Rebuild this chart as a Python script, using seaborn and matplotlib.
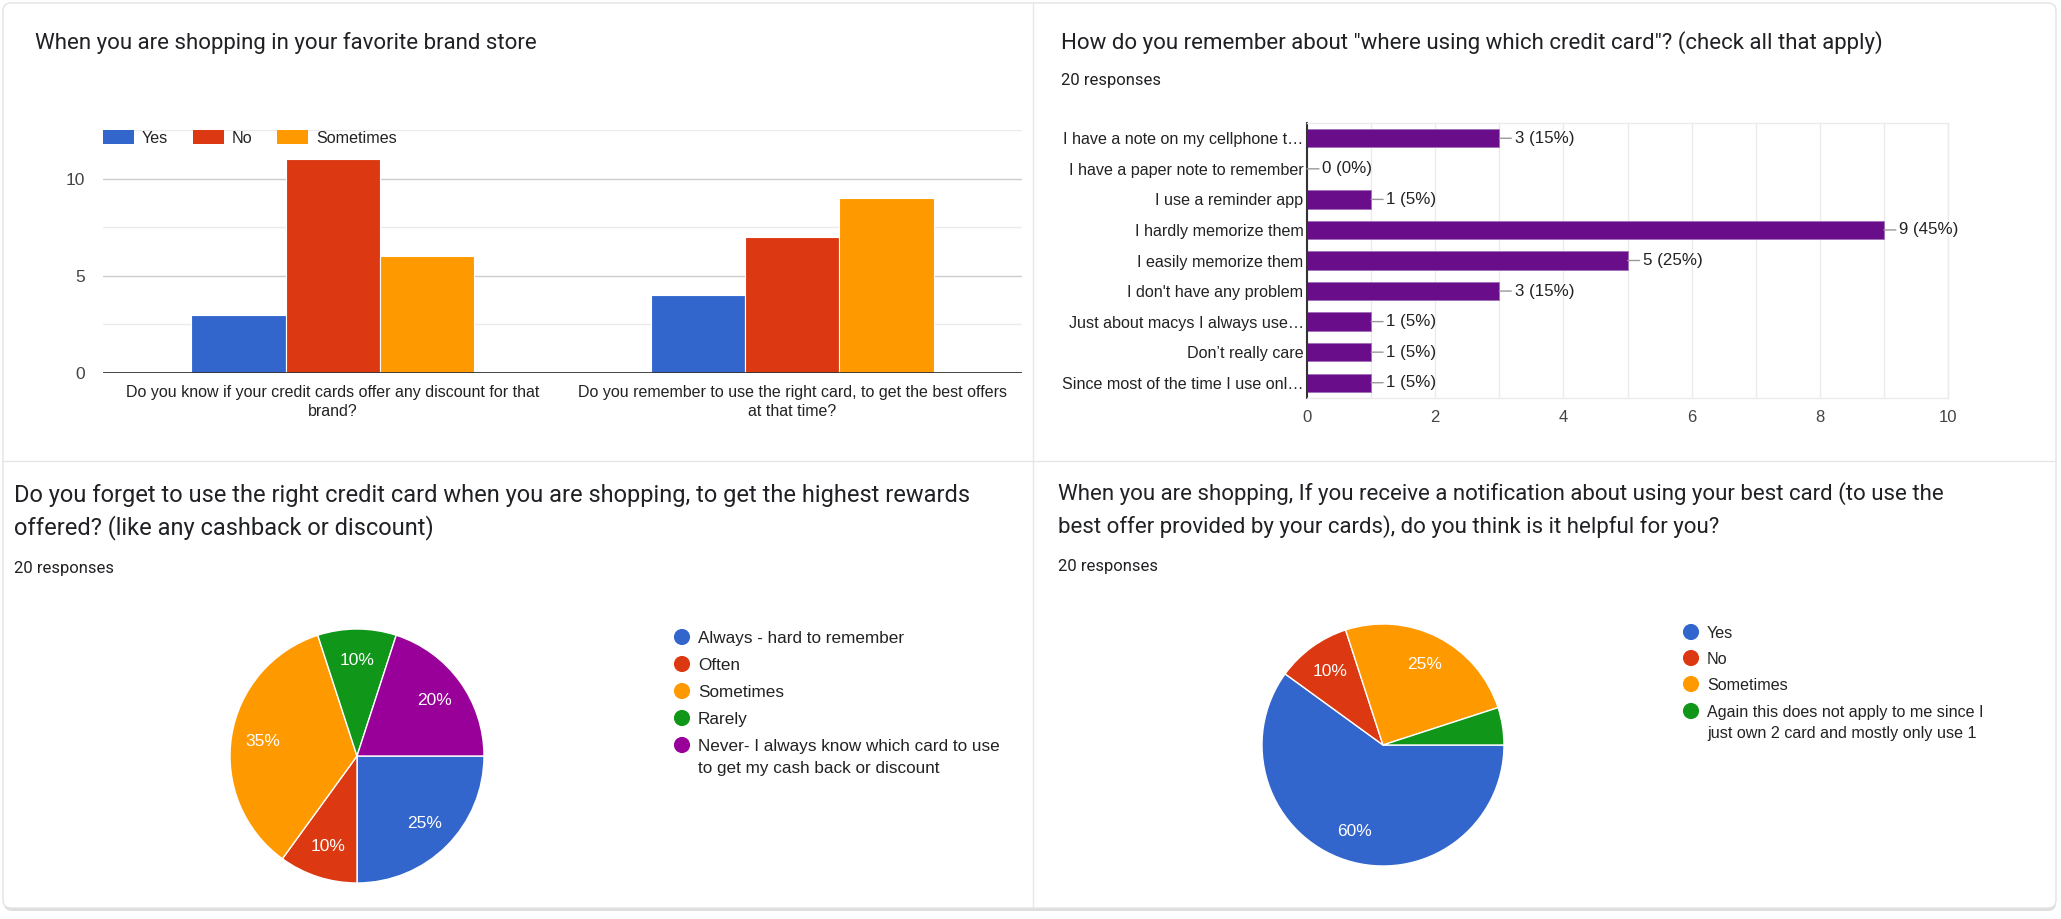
import matplotlib
matplotlib.use("Agg")
import matplotlib.pyplot as plt
import seaborn as sns
import pandas as pd
from matplotlib.patches import FancyBboxPatch, Patch
from matplotlib.lines import Line2D

# --- data ---
brand_questions = [
    "Do you know if your credit cards offer any discount for that\nbrand?",
    "Do you remember to use the right card, to get the best offers\nat that time?",
]
brand_answers = ["Yes", "No", "Sometimes"]
brand_yes = [3, 4]
brand_no = [11, 7]
brand_sometimes = [6, 9]

remember_options = [
    "I have a note on my cellphone t…",
    "I have a paper note to remember",
    "I use a reminder app",
    "I hardly memorize them",
    "I easily memorize them",
    "I don't have any problem",
    "Just about macys I always use…",
    "Don’t really care",
    "Since most of the time I use onl…",
]
remember_counts = [3, 0, 1, 9, 5, 3, 1, 1, 1]
n_responses = 20

forget_labels = [
    "Always - hard to remember",
    "Often",
    "Sometimes",
    "Rarely",
    "Never- I always know which card to use\nto get my cash back or discount",
]
forget_pct = [25, 10, 35, 10, 20]

notify_labels = [
    "Yes",
    "No",
    "Sometimes",
    "Again this does not apply to me since I\njust own 2 card and mostly only use 1",
]
notify_pct = [60, 10, 25, 5]

titles = [
    "When you are shopping in your favorite brand store",
    'How do you remember about "where using which credit card"? (check all that apply)',
    "Do you forget to use the right credit card when you are shopping, to get the highest rewards\noffered? (like any cashback or discount)",
    "When you are shopping, If you receive a notification about using your best card (to use the\nbest offer provided by your cards), do you think is it helpful for you?",
]

BLUE, RED, ORANGE, GREEN, PURPLE = "#3366cc", "#dc3912", "#ff9900", "#109618", "#990099"
BAR_PURPLE = "#6a0d8b"
TXT = "#222222"

sns.set_theme(style="white")
plt.rcParams["font.family"] = ["Liberation Sans", "DejaVu Sans"]

W, H = 2061, 919
fig = plt.figure(figsize=(W / 100, H / 100), dpi=100)
fig.patch.set_facecolor("white")


def box(left, top, right, bottom):
    # pixel box -> figure fraction rect
    return [left / W, 1 - bottom / H, (right - left) / W, (bottom - top) / H]


# card background, shadow and dividers
fig.add_artist(FancyBboxPatch((4, 8), 2052, 906, boxstyle="round,pad=0,rounding_size=8",
                              transform=None, facecolor="#c8c8c8", edgecolor="none", alpha=0.6, zorder=-3))
fig.add_artist(FancyBboxPatch((3, 11), 2053, 905, boxstyle="round,pad=0,rounding_size=8",
                              transform=None, facecolor="white", edgecolor="#e3e3e3", lw=1, zorder=-2))
fig.add_artist(Line2D([1033 / W, 1033 / W], [11 / H, 1 - 2 / H], color="#e6e6e6", lw=1, zorder=-1))
fig.add_artist(Line2D([3 / W, 2056 / W], [1 - 461 / H, 1 - 461 / H], color="#e6e6e6", lw=1, zorder=-1))

# titles
title_kw = dict(color="#202124", family=["Roboto", "DejaVu Sans"], va="center")
fig.text(35 / W, 1 - 43 / H, titles[0], fontsize=16, **title_kw)
fig.text(1061 / W, 1 - 43 / H, titles[1], fontsize=16, **title_kw)
fig.text(14 / W, 1 - 512 / H, titles[2], fontsize=17, linespacing=1.44, **title_kw)
fig.text(1058 / W, 1 - 510 / H, titles[3], fontsize=16, linespacing=1.53, **title_kw)
resp_kw = dict(fontsize=12, color="#202124", family=["Roboto", "DejaVu Sans"], va="center")
fig.text(1061 / W, 1 - 80 / H, f"{n_responses} responses", **resp_kw)
fig.text(14 / W, 1 - 568 / H, f"{n_responses} responses", **resp_kw)
fig.text(1058 / W, 1 - 567 / H, f"{n_responses} responses", **resp_kw)

# --- chart 1: grouped bars ---
df_brand = pd.DataFrame({
    "question": brand_questions * 3,
    "answer": [a for a in brand_answers for _ in brand_questions],
    "count": brand_yes + brand_no + brand_sometimes,
})
ax1 = fig.add_axes(box(103, 130, 1022, 373))
sns.barplot(data=df_brand, x="question", y="count", hue="answer", hue_order=brand_answers,
            palette=[BLUE, RED, ORANGE], saturation=1, width=0.615, errorbar=None,
            edgecolor="white", linewidth=0.8, ax=ax1)
ax1.set_ylim(0, 12.5)
for y in [2.5, 7.5, 12.5]:
    ax1.axhline(y, color="#ebebeb", lw=1, zorder=0)
for y in [5, 10]:
    ax1.axhline(y, color="#cccccc", lw=1, zorder=0)
ax1.axhline(0, color="#333333", lw=2, zorder=3)
ax1.set_yticks([0, 5, 10])
ax1.set_xlabel("")
ax1.set_ylabel("")
for s in ax1.spines.values():
    s.set_visible(False)
ax1.tick_params(axis="y", length=0, pad=13, labelsize=12.5, labelcolor="#444444")
ax1.tick_params(axis="x", length=0, pad=8.5, labelsize=11.5, labelcolor=TXT)
for t in ax1.get_xticklabels():
    t.set_linespacing(1.32)
handles = [Patch(facecolor=c, edgecolor="none", label=l) for c, l in zip([BLUE, RED, ORANGE], brand_answers)]
ax1.legend(handles=handles, ncol=3, loc="center left", bbox_to_anchor=(0, 1 - 8 / 243), frameon=False,
           borderpad=0, borderaxespad=0, fontsize=11.6, handlelength=1.9, handleheight=0.88,
           handletextpad=0.5, columnspacing=1.55, labelcolor=TXT)

# --- chart 2: horizontal bars ---
df_rem = pd.DataFrame({"option": remember_options, "count": remember_counts})
ax2 = fig.add_axes(box(1307, 123, 1948, 398))
sns.barplot(data=df_rem, x="count", y="option", orient="h", color=BAR_PURPLE, saturation=1, width=0.6,
            errorbar=None, edgecolor="#a070b8", linewidth=0.6, ax=ax2)
ax2.set_xlim(0, 10)
ax2.set_ylim(len(remember_options) - 0.5, -0.5)
ax2.set_xticks(range(0, 11, 2))
ax2.set_xticks(range(11), minor=True)
ax2.grid(axis="x", which="both", color="#ebebeb", lw=1)
ax2.set_axisbelow(True)
ax2.set_xlabel("")
ax2.set_ylabel("")
for k in ["top", "bottom", "right"]:
    ax2.spines[k].set_color("#ebebeb")
    ax2.spines[k].set_linewidth(1)
ax2.spines["left"].set_color("#333333")
ax2.spines["left"].set_linewidth(1.5)
ax2.tick_params(axis="x", which="both", length=0, pad=9, labelsize=12, labelcolor="#444444")
ax2.tick_params(axis="y", length=0, pad=2.5, labelsize=11.6, labelcolor=TXT)
for i, v in enumerate(remember_counts):
    ax2.annotate(f"{v} ({v / n_responses:.0%})", xy=(v, i), xytext=(11, 0), textcoords="offset points",
                 va="center", ha="left", fontsize=12.2, color=TXT,
                 arrowprops=dict(arrowstyle="-", color="#999999", lw=1, shrinkA=0, shrinkB=0))

# overlay in pixel units for the pie legends
leg_ax = fig.add_axes([0, 0, 1, 1], zorder=5)
leg_ax.set_xlim(0, W)
leg_ax.set_ylim(H, 0)
leg_ax.axis("off")


def pie_panel(rect, values, labels, colors, leg_x, leg_rows, line_gap, fs):
    ax = fig.add_axes(rect)
    ax.pie(values, colors=colors, startangle=0, counterclock=False, radius=1,
           autopct=lambda p: f"{p:.0f}%" if p >= 7 else "", pctdistance=0.75,
           wedgeprops=dict(edgecolor="white", linewidth=1),
           textprops=dict(color="white", fontsize=12.5))
    ax.set_xlim(-1, 1)
    ax.set_ylim(-1, 1)
    # legend: coloured dot + label, first line of each label next to its dot
    leg_ax.scatter([leg_x] * len(labels), leg_rows, s=135, c=colors, linewidths=0)
    for y, lab in zip(leg_rows, labels):
        for k, line in enumerate(lab.split("\n")):
            leg_ax.text(leg_x + 16, y + k * line_gap, line, fontsize=fs, color=TXT, va="center_baseline")
    return ax


pie_panel(box(230, 629, 484, 883), forget_pct, forget_labels, [BLUE, RED, ORANGE, GREEN, PURPLE],
          682, [637, 664, 691, 718, 745], 22, 12.3)
pie_panel(box(1262, 624, 1504, 866), notify_pct, notify_labels, [BLUE, RED, ORANGE, GREEN],
          1691, [632, 658, 684, 711], 21, 11.6)

fig.savefig("out.png", dpi=100, facecolor="white")
